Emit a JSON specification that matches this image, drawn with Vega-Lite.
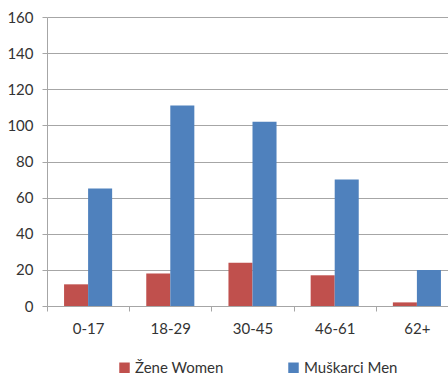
{
  "$schema": "https://vega.github.io/schema/vega-lite/v6.json",
  "autosize": {"type": "none"},
  "width": 401,
  "height": 289,
  "padding": {"left": 47, "top": 17, "right": 0, "bottom": 71},
  "background": "white",
  "config": {
    "view": {"stroke": null},
    "font": "Lato",
    "axis": {"labelFont": "Lato", "labelFontSize": 15, "labelColor": "#333333"},
    "legend": {"labelFont": "Lato", "labelFontSize": 15, "labelColor": "#333333"}
  },
  "data": {
    "values": [
      {"age": "0-17", "gender": "Žene Women", "count": 12},
      {"age": "0-17", "gender": "Muškarci Men", "count": 65},
      {"age": "18-29", "gender": "Žene Women", "count": 18},
      {"age": "18-29", "gender": "Muškarci Men", "count": 111},
      {"age": "30-45", "gender": "Žene Women", "count": 24},
      {"age": "30-45", "gender": "Muškarci Men", "count": 102},
      {"age": "46-61", "gender": "Žene Women", "count": 17},
      {"age": "46-61", "gender": "Muškarci Men", "count": 70},
      {"age": "62+", "gender": "Žene Women", "count": 2},
      {"age": "62+", "gender": "Muškarci Men", "count": 20}
    ]
  },
  "mark": {"type": "bar"},
  "encoding": {
    "x": {
      "field": "age", "type": "nominal", "sort": null,
      "scale": {"range": [0, 411], "paddingInner": 0, "paddingOuter": 0},
      "axis": {
        "title": null, "labelAngle": 0, "tickBand": "extent",
        "domainColor": "#a6a6a6", "tickColor": "#a6a6a6", "tickSize": 5,
        "labelPadding": 10, "grid": false
      }
    },
    "xOffset": {
      "field": "gender", "type": "nominal",
      "scale": {"domain": ["Žene Women", "Muškarci Men"], "paddingOuter": 0.71, "paddingInner": 0}
    },
    "y": {
      "field": "count", "type": "quantitative",
      "scale": {"domain": [0, 160], "nice": false},
      "axis": {
        "title": null, "values": [0, 20, 40, 60, 80, 100, 120, 140, 160],
        "gridColor": "#a6a6a6", "domainColor": "#a6a6a6", "tickColor": "#a6a6a6",
        "tickSize": 5, "labelPadding": 9
      }
    },
    "color": {
      "field": "gender", "type": "nominal",
      "scale": {"domain": ["Žene Women", "Muškarci Men"], "range": ["#C0504D", "#4F81BD"]},
      "legend": {
        "title": null, "orient": "none", "direction": "horizontal",
        "legendX": 70, "legendY": 343, "padding": 0,
        "symbolType": "square", "symbolSize": 110, "symbolStrokeWidth": 0,
        "columnPadding": 62, "labelOffset": 3
      }
    }
  }
}
